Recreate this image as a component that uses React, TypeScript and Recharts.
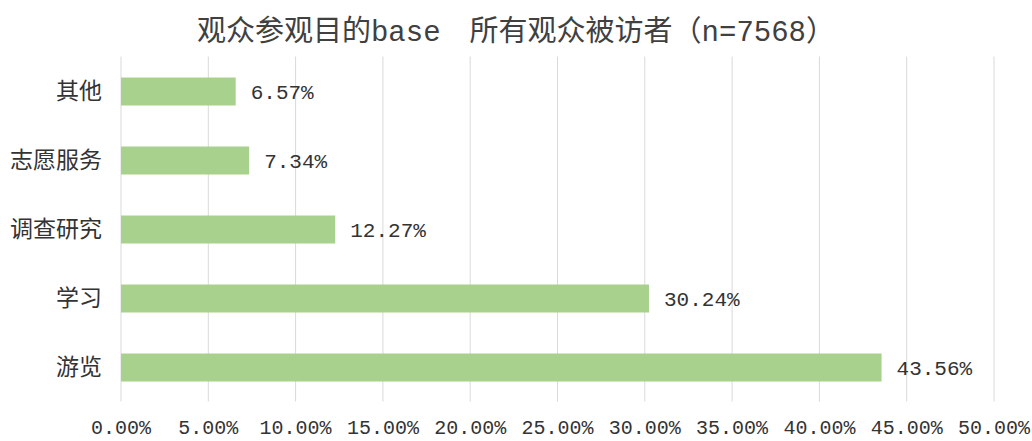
import React from "react";
import { BarChart, Bar, XAxis, YAxis, CartesianGrid, LabelList } from "recharts";

const titleParts = [
  { text: "观众参观目的", latin: false },
  { text: "base", latin: true },
  { text: "\u3000所有观众被访者（", latin: false },
  { text: "n=7568", latin: true },
  { text: "）", latin: false },
];
const categories = ["其他", "志愿服务", "调查研究", "学习", "游览"];
const values = [6.57, 7.34, 12.27, 30.24, 43.56];
const xTicks = [0, 5, 10, 15, 20, 25, 30, 35, 40, 45, 50];

const data = categories.map((c, i) => ({ name: c, value: values[i] }));
const fmt = (v: number) => Number(v).toFixed(2) + "%";

const numFont = "'Liberation Mono', 'DejaVu Sans Mono', monospace";
const cjkFont = "'Noto Sans CJK SC', sans-serif";

export default function App() {
  return (
    <div style={{ position: "absolute", left: 0, top: 0, width: 1032, height: 441, background: "#fff", overflow: "hidden" }}>
      <div
        style={{
          position: "absolute",
          left: 0,
          top: 9,
          width: 1032,
          textAlign: "center",
          fontFamily: cjkFont,
          fontSize: 29,
          lineHeight: "38px",
          color: "#404040",
          whiteSpace: "pre",
        }}
      >
        {titleParts.map((p, i) => (
          <span key={i} style={p.latin ? { fontFamily: numFont } : undefined}>
            {p.text}
          </span>
        ))}
      </div>
      <BarChart
        width={1032}
        height={441}
        data={data}
        layout="vertical"
        margin={{ top: 56.5, right: 38, bottom: 0, left: 0 }}
        style={{ position: "absolute", left: 0, top: 0 }}
      >
        <CartesianGrid horizontal={false} vertical={true} stroke="#d9d9d9" />
        <XAxis
          type="number"
          domain={[0, 50]}
          ticks={xTicks}
          tickFormatter={fmt}
          axisLine={false}
          tickLine={false}
          height={39.5}
          tickMargin={12}
          interval={0}
          tick={{ fill: "#333", fontSize: 20, fontFamily: numFont }}
        />
        <YAxis
          type="category"
          dataKey="name"
          width={121}
          axisLine={false}
          tickLine={false}
          tickMargin={13}
          tick={{ fill: "#333", fontSize: 23, fontFamily: cjkFont }}
        />
        <Bar dataKey="value" fill="#a9d18e" barSize={28} isAnimationActive={false}>
          <LabelList
            dataKey="value"
            position="right"
            offset={15}
            formatter={(v: any) => fmt(v)}
            style={{ fill: "#333", fontSize: 21, fontFamily: numFont }}
          />
        </Bar>
      </BarChart>
    </div>
  );
}
